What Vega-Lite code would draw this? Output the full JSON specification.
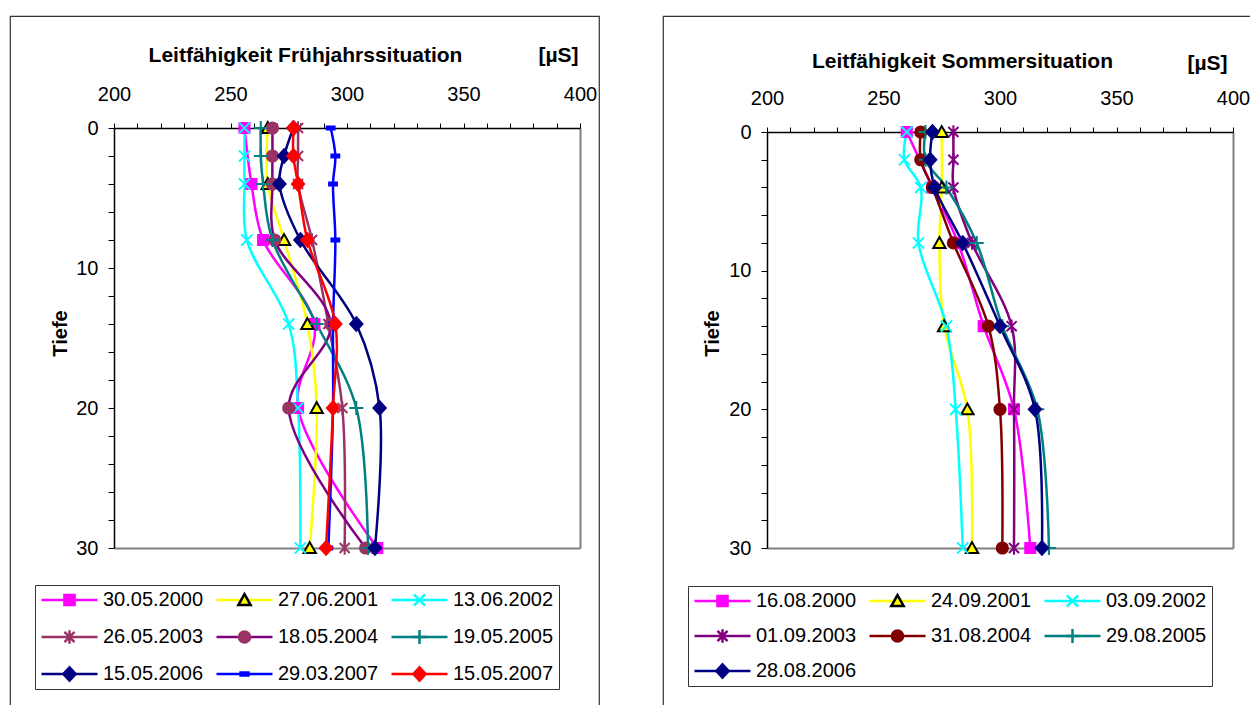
{
  "$schema": "https://vega.github.io/schema/vega-lite/v6.json",
  "padding": {"left": 9, "top": 15, "right": 0, "bottom": 0},
  "background": "white",
  "config": {
    "view": {"stroke": "#333333", "strokeWidth": 1.2, "fill": "white"},
    "font": "Liberation Sans",
    "axis": {"labelFont": "Liberation Sans", "labelFontSize": 20, "labelColor": "black", "titleFont": "Liberation Sans", "titleFontSize": 21, "titleFontWeight": "bold", "titleColor": "black", "domainColor": "black", "tickColor": "black", "labelFlush": false, "labelOverlap": false}
  },
  "datasets": {
    "fj": [
      {"s": "30.05.2000", "t": 0, "v": 256}, {"s": "30.05.2000", "t": 4, "v": 259}, {"s": "30.05.2000", "t": 8, "v": 264}, {"s": "30.05.2000", "t": 14, "v": 286}, {"s": "30.05.2000", "t": 20, "v": 279}, {"s": "30.05.2000", "t": 30, "v": 313},
      {"s": "27.06.2001", "t": 0, "v": 266}, {"s": "27.06.2001", "t": 4, "v": 266}, {"s": "27.06.2001", "t": 8, "v": 273}, {"s": "27.06.2001", "t": 14, "v": 283}, {"s": "27.06.2001", "t": 20, "v": 287}, {"s": "27.06.2001", "t": 30, "v": 284},
      {"s": "13.06.2002", "t": 0, "v": 256}, {"s": "13.06.2002", "t": 2, "v": 256}, {"s": "13.06.2002", "t": 4, "v": 256}, {"s": "13.06.2002", "t": 8, "v": 257}, {"s": "13.06.2002", "t": 14, "v": 275}, {"s": "13.06.2002", "t": 20, "v": 279}, {"s": "13.06.2002", "t": 30, "v": 280},
      {"s": "26.05.2003", "t": 0, "v": 279}, {"s": "26.05.2003", "t": 2, "v": 279}, {"s": "26.05.2003", "t": 4, "v": 279}, {"s": "26.05.2003", "t": 8, "v": 285}, {"s": "26.05.2003", "t": 14, "v": 292}, {"s": "26.05.2003", "t": 20, "v": 298}, {"s": "26.05.2003", "t": 30, "v": 299},
      {"s": "18.05.2004", "t": 0, "v": 268}, {"s": "18.05.2004", "t": 2, "v": 268}, {"s": "18.05.2004", "t": 4, "v": 268}, {"s": "18.05.2004", "t": 8, "v": 269}, {"s": "18.05.2004", "t": 14, "v": 293}, {"s": "18.05.2004", "t": 20, "v": 275}, {"s": "18.05.2004", "t": 30, "v": 308},
      {"s": "19.05.2005", "t": 0, "v": 263}, {"s": "19.05.2005", "t": 2, "v": 263}, {"s": "19.05.2005", "t": 4, "v": 264}, {"s": "19.05.2005", "t": 8, "v": 268}, {"s": "19.05.2005", "t": 14, "v": 287}, {"s": "19.05.2005", "t": 20, "v": 304}, {"s": "19.05.2005", "t": 30, "v": 309},
      {"s": "15.05.2006", "t": 0, "v": 277}, {"s": "15.05.2006", "t": 2, "v": 273}, {"s": "15.05.2006", "t": 4, "v": 271}, {"s": "15.05.2006", "t": 8, "v": 280}, {"s": "15.05.2006", "t": 14, "v": 304}, {"s": "15.05.2006", "t": 20, "v": 314}, {"s": "15.05.2006", "t": 30, "v": 312},
      {"s": "29.03.2007", "t": 0, "v": 293}, {"s": "29.03.2007", "t": 2, "v": 295}, {"s": "29.03.2007", "t": 4, "v": 294}, {"s": "29.03.2007", "t": 8, "v": 295}, {"s": "29.03.2007", "t": 14, "v": 294}, {"s": "29.03.2007", "t": 20, "v": 294}, {"s": "29.03.2007", "t": 30, "v": 292},
      {"s": "15.05.2007", "t": 0, "v": 277}, {"s": "15.05.2007", "t": 2, "v": 277}, {"s": "15.05.2007", "t": 4, "v": 279}, {"s": "15.05.2007", "t": 8, "v": 283}, {"s": "15.05.2007", "t": 14, "v": 295}, {"s": "15.05.2007", "t": 20, "v": 294}, {"s": "15.05.2007", "t": 30, "v": 291}
    ],
    "so": [
      {"s": "16.08.2000", "t": 0, "v": 260}, {"s": "16.08.2000", "t": 4, "v": 271}, {"s": "16.08.2000", "t": 8, "v": 282}, {"s": "16.08.2000", "t": 14, "v": 293}, {"s": "16.08.2000", "t": 20, "v": 306}, {"s": "16.08.2000", "t": 30, "v": 313},
      {"s": "24.09.2001", "t": 0, "v": 275}, {"s": "24.09.2001", "t": 4, "v": 275}, {"s": "24.09.2001", "t": 8, "v": 274}, {"s": "24.09.2001", "t": 14, "v": 276}, {"s": "24.09.2001", "t": 20, "v": 286}, {"s": "24.09.2001", "t": 30, "v": 288},
      {"s": "03.09.2002", "t": 0, "v": 260}, {"s": "03.09.2002", "t": 2, "v": 259}, {"s": "03.09.2002", "t": 4, "v": 266}, {"s": "03.09.2002", "t": 8, "v": 265}, {"s": "03.09.2002", "t": 14, "v": 277}, {"s": "03.09.2002", "t": 20, "v": 281}, {"s": "03.09.2002", "t": 30, "v": 284},
      {"s": "01.09.2003", "t": 0, "v": 280}, {"s": "01.09.2003", "t": 2, "v": 280}, {"s": "01.09.2003", "t": 4, "v": 280}, {"s": "01.09.2003", "t": 8, "v": 288}, {"s": "01.09.2003", "t": 14, "v": 305}, {"s": "01.09.2003", "t": 20, "v": 306}, {"s": "01.09.2003", "t": 30, "v": 306},
      {"s": "31.08.2004", "t": 0, "v": 266}, {"s": "31.08.2004", "t": 2, "v": 266}, {"s": "31.08.2004", "t": 4, "v": 271}, {"s": "31.08.2004", "t": 8, "v": 280}, {"s": "31.08.2004", "t": 14, "v": 295}, {"s": "31.08.2004", "t": 20, "v": 300}, {"s": "31.08.2004", "t": 30, "v": 301},
      {"s": "29.08.2005", "t": 0, "v": 268}, {"s": "29.08.2005", "t": 2, "v": 268}, {"s": "29.08.2005", "t": 4, "v": 277}, {"s": "29.08.2005", "t": 8, "v": 290}, {"s": "29.08.2005", "t": 14, "v": 301}, {"s": "29.08.2005", "t": 20, "v": 316}, {"s": "29.08.2005", "t": 30, "v": 321},
      {"s": "28.08.2006", "t": 0, "v": 271}, {"s": "28.08.2006", "t": 2, "v": 270}, {"s": "28.08.2006", "t": 4, "v": 272}, {"s": "28.08.2006", "t": 8, "v": 284}, {"s": "28.08.2006", "t": 14, "v": 300}, {"s": "28.08.2006", "t": 20, "v": 315}, {"s": "28.08.2006", "t": 30, "v": 318}
    ]
  },
  "spacing": 62,
  "resolve": {
    "scale": {"x": "independent", "y": "independent", "color": "independent", "fill": "independent", "stroke": "independent", "shape": "independent"},
    "legend": {"color": "independent", "fill": "independent", "stroke": "independent", "shape": "independent"}
  },
  "hconcat": [
    {
      "width": 589,
      "height": 700,
      "data": {"name": "fj"},
      "resolve": {"axis": {"x": "independent"}},
      "layer": [
        {
          "mark": {"type": "line", "interpolate": "catmull-rom", "strokeWidth": 2.5},
          "encoding": {
            "x": {"field": "v", "type": "quantitative", "scale": {"domain": [200, 400], "range": [104, 570], "zero": false, "nice": false},
              "axis": {"orient": "top", "offset": -112, "values": [200, 210, 220, 230, 240, 250, 260, 270, 280, 290, 300, 310, 320, 330, 340, 350, 360, 370, 380, 390, 400], "labelExpr": "datum.value % 50 === 0 ? datum.label : ''", "tickSize": 5, "tickWidth": 1, "domainWidth": 1.5, "labelPadding": 19, "grid": true, "gridColor": "#808080", "gridWidth": 2, "gridOpacity": {"condition": {"test": "datum.value === 400", "value": 1}, "value": 0}, "title": "Leitfähigkeit Frühjahrssituation", "titleX": 295, "titleY": -73, "titleBaseline": "middle", "titleAlign": "center"}},
            "y": {"field": "t", "type": "quantitative", "scale": {"domain": [0, 30], "range": [112, 532], "zero": false, "nice": false},
              "axis": {"orient": "left", "offset": -104, "values": [0, 1, 2, 3, 4, 5, 6, 7, 8, 9, 10, 11, 12, 13, 14, 15, 16, 17, 18, 19, 20, 21, 22, 23, 24, 25, 26, 27, 28, 29, 30], "labelExpr": "datum.value % 5 === 0 ? datum.label : ''", "tickSize": 6, "tickWidth": 1, "domainWidth": 1.5, "labelPadding": 10, "grid": true, "gridColor": "#808080", "gridWidth": 2, "gridOpacity": {"condition": {"test": "datum.value === 30", "value": 1}, "value": 0}, "title": "Tiefe", "titleFontSize": 20, "titleX": -54, "titleY": 317, "titleAngle": -90, "titleBaseline": "middle", "titleAlign": "center"}},
            "color": {"field": "s", "type": "nominal",
              "sort": ["30.05.2000", "27.06.2001", "13.06.2002", "26.05.2003", "18.05.2004", "19.05.2005", "15.05.2006", "29.03.2007", "15.05.2007"],
              "scale": {"range": ["#FF00FF", "#FFFF00", "#00FFFF", "#993366", "#800080", "#008080", "#000080", "#0000FF", "#FF0000"]},
              "legend": {"orient": "none", "direction": "horizontal", "legendX": 25, "legendY": 569, "columns": 3, "title": null, "symbolType": "M-1,0H1", "symbolSize": 3136, "symbolStrokeWidth": 2.5, "clipHeight": 20, "labelFont": "Liberation Sans", "labelFontSize": 20, "labelColor": "black", "labelOffset": 4, "labelLimit": 400, "padding": 5, "columnPadding": 11, "rowPadding": 17, "strokeColor": "#333333", "fillColor": "white"}},
            "order": {"field": "t", "type": "quantitative"}
          }
        },
        {
          "mark": {"type": "point", "size": 3136, "strokeWidth": 2, "opacity": 1},
          "encoding": {
            "x": {"field": "v", "type": "quantitative",
              "axis": {"orient": "top", "offset": -112, "domain": false, "ticks": false, "labels": false, "grid": false, "title": "[µS]", "titleX": 548, "titleY": -73, "titleBaseline": "middle", "titleAlign": "center"}},
            "y": {"field": "t", "type": "quantitative"},
            "shape": {"field": "s", "type": "nominal",
              "scale": {"domain": ["30.05.2000", "27.06.2001", "13.06.2002", "26.05.2003", "18.05.2004", "19.05.2005", "15.05.2006", "29.03.2007", "15.05.2007"],
                "range": [
                  "M-1,0M1,0M-0.18,-0.18H0.18V0.18H-0.18Z",
                  "M-1,0M1,0M0,-0.21L0.22,0.18H-0.22Z",
                  "M-1,0M1,0M-0.2,-0.2L0.2,0.2M-0.2,0.2L0.2,-0.2",
                  "M-1,0M1,0M-0.18,-0.18L0.18,0.18M-0.18,0.18L0.18,-0.18M0,-0.24V0.24",
                  "M-1,0M1,0M0,-0.2C0.11,-0.2 0.2,-0.11 0.2,0C0.2,0.11 0.11,0.2 0,0.2C-0.11,0.2 -0.2,0.11 -0.2,0C-0.2,-0.11 -0.11,-0.2 0,-0.2Z",
                  "M-1,0M1,0M-0.25,0H0.25M0,-0.25V0.25",
                  "M-1,0M1,0M0,-0.24L0.22,0L0,0.24L-0.22,0Z",
                  "M-1,0M1,0M-0.14,-0.055H0.14V0.055H-0.14Z",
                  "M-1,0M1,0M0,-0.24L0.22,0L0,0.24L-0.22,0Z"
                ]},
              "legend": {"orient": "none", "direction": "horizontal", "legendX": 25, "legendY": 569, "columns": 3, "title": null, "symbolSize": 3136, "symbolStrokeWidth": 2.5, "symbolFillColor": "transparent", "clipHeight": 20, "labelFont": "Liberation Sans", "labelFontSize": 20, "labelOpacity": 0, "labelOffset": 4, "labelLimit": 400, "padding": 5, "columnPadding": 11, "rowPadding": 17}},
            "fill": {"field": "s", "type": "nominal",
              "scale": {"domain": ["30.05.2000", "27.06.2001", "13.06.2002", "26.05.2003", "18.05.2004", "19.05.2005", "15.05.2006", "29.03.2007", "15.05.2007"],
                "range": ["#FF00FF", "#FFFF00", "transparent", "transparent", "#993366", "transparent", "#000080", "#0000FF", "#FF0000"]},
              "legend": {"orient": "none", "direction": "horizontal", "legendX": 25, "legendY": 569, "columns": 3, "title": null, "symbolSize": 3136, "symbolStrokeWidth": 2.5, "symbolFillColor": "transparent", "clipHeight": 20, "labelFont": "Liberation Sans", "labelFontSize": 20, "labelOpacity": 0, "labelOffset": 4, "labelLimit": 400, "padding": 5, "columnPadding": 11, "rowPadding": 17}},
            "stroke": {"field": "s", "type": "nominal",
              "scale": {"domain": ["30.05.2000", "27.06.2001", "13.06.2002", "26.05.2003", "18.05.2004", "19.05.2005", "15.05.2006", "29.03.2007", "15.05.2007"],
                "range": ["#FF00FF", "#000000", "#00FFFF", "#993366", "#993366", "#008080", "#000080", "#0000FF", "#FF0000"]},
              "legend": {"orient": "none", "direction": "horizontal", "legendX": 25, "legendY": 569, "columns": 3, "title": null, "symbolSize": 3136, "symbolStrokeWidth": 2.5, "symbolFillColor": "transparent", "clipHeight": 20, "labelFont": "Liberation Sans", "labelFontSize": 20, "labelOpacity": 0, "labelOffset": 4, "labelLimit": 400, "padding": 5, "columnPadding": 11, "rowPadding": 17}}
          }
        }
      ]
    },
    {
      "width": 589,
      "height": 700,
      "data": {"name": "so"},
      "resolve": {"axis": {"x": "independent"}},
      "layer": [
        {
          "mark": {"type": "line", "interpolate": "catmull-rom", "strokeWidth": 2.5},
          "encoding": {
            "x": {"field": "v", "type": "quantitative", "scale": {"domain": [200, 400], "range": [104, 570], "zero": false, "nice": false},
              "axis": {"orient": "top", "offset": -116, "values": [200, 210, 220, 230, 240, 250, 260, 270, 280, 290, 300, 310, 320, 330, 340, 350, 360, 370, 380, 390, 400], "labelExpr": "datum.value % 50 === 0 ? datum.label : ''", "tickSize": 5, "tickWidth": 1, "domainWidth": 1.5, "labelPadding": 19, "grid": true, "gridColor": "#808080", "gridWidth": 2, "gridOpacity": {"condition": {"test": "datum.value === 400", "value": 1}, "value": 0}, "title": "Leitfähigkeit Sommersituation", "titleX": 299, "titleY": -71, "titleBaseline": "middle", "titleAlign": "center"}},
            "y": {"field": "t", "type": "quantitative", "scale": {"domain": [0, 30], "range": [116, 532], "zero": false, "nice": false},
              "axis": {"orient": "left", "offset": -104, "values": [0, 1, 2, 3, 4, 5, 6, 7, 8, 9, 10, 11, 12, 13, 14, 15, 16, 17, 18, 19, 20, 21, 22, 23, 24, 25, 26, 27, 28, 29, 30], "labelExpr": "datum.value % 5 === 0 ? datum.label : ''", "tickSize": 6, "tickWidth": 1, "domainWidth": 1.5, "labelPadding": 10, "grid": true, "gridColor": "#808080", "gridWidth": 2, "gridOpacity": {"condition": {"test": "datum.value === 30", "value": 1}, "value": 0}, "title": "Tiefe", "titleFontSize": 20, "titleX": -55, "titleY": 317, "titleAngle": -90, "titleBaseline": "middle", "titleAlign": "center"}},
            "color": {"field": "s", "type": "nominal",
              "sort": ["16.08.2000", "24.09.2001", "03.09.2002", "01.09.2003", "31.08.2004", "29.08.2005", "28.08.2006"],
              "scale": {"range": ["#FF00FF", "#FFFF00", "#00FFFF", "#800080", "#800000", "#008080", "#000080"]},
              "legend": {"orient": "none", "direction": "horizontal", "legendX": 25, "legendY": 570, "columns": 3, "title": null, "symbolType": "M-1,0H1", "symbolSize": 3136, "symbolStrokeWidth": 2.5, "clipHeight": 20, "labelFont": "Liberation Sans", "labelFontSize": 20, "labelColor": "black", "labelOffset": 4, "labelLimit": 400, "padding": 5, "columnPadding": 11, "rowPadding": 15, "strokeColor": "#333333", "fillColor": "white"}},
            "order": {"field": "t", "type": "quantitative"}
          }
        },
        {
          "mark": {"type": "point", "size": 3136, "strokeWidth": 2, "opacity": 1},
          "encoding": {
            "x": {"field": "v", "type": "quantitative",
              "axis": {"orient": "top", "offset": -116, "domain": false, "ticks": false, "labels": false, "grid": false, "title": "[µS]", "titleX": 544, "titleY": -69, "titleBaseline": "middle", "titleAlign": "center"}},
            "y": {"field": "t", "type": "quantitative"},
            "shape": {"field": "s", "type": "nominal",
              "scale": {"domain": ["16.08.2000", "24.09.2001", "03.09.2002", "01.09.2003", "31.08.2004", "29.08.2005", "28.08.2006"],
                "range": [
                  "M-1,0M1,0M-0.18,-0.18H0.18V0.18H-0.18Z",
                  "M-1,0M1,0M0,-0.21L0.22,0.18H-0.22Z",
                  "M-1,0M1,0M-0.2,-0.2L0.2,0.2M-0.2,0.2L0.2,-0.2",
                  "M-1,0M1,0M-0.18,-0.18L0.18,0.18M-0.18,0.18L0.18,-0.18M0,-0.24V0.24",
                  "M-1,0M1,0M0,-0.2C0.11,-0.2 0.2,-0.11 0.2,0C0.2,0.11 0.11,0.2 0,0.2C-0.11,0.2 -0.2,0.11 -0.2,0C-0.2,-0.11 -0.11,-0.2 0,-0.2Z",
                  "M-1,0M1,0M-0.25,0H0.25M0,-0.25V0.25",
                  "M-1,0M1,0M0,-0.24L0.22,0L0,0.24L-0.22,0Z"
                ]},
              "legend": {"orient": "none", "direction": "horizontal", "legendX": 25, "legendY": 570, "columns": 3, "title": null, "symbolSize": 3136, "symbolStrokeWidth": 2.5, "symbolFillColor": "transparent", "clipHeight": 20, "labelFont": "Liberation Sans", "labelFontSize": 20, "labelOpacity": 0, "labelOffset": 4, "labelLimit": 400, "padding": 5, "columnPadding": 11, "rowPadding": 15}},
            "fill": {"field": "s", "type": "nominal",
              "scale": {"domain": ["16.08.2000", "24.09.2001", "03.09.2002", "01.09.2003", "31.08.2004", "29.08.2005", "28.08.2006"],
                "range": ["#FF00FF", "#FFFF00", "transparent", "transparent", "#800000", "transparent", "#000080"]},
              "legend": {"orient": "none", "direction": "horizontal", "legendX": 25, "legendY": 570, "columns": 3, "title": null, "symbolSize": 3136, "symbolStrokeWidth": 2.5, "symbolFillColor": "transparent", "clipHeight": 20, "labelFont": "Liberation Sans", "labelFontSize": 20, "labelOpacity": 0, "labelOffset": 4, "labelLimit": 400, "padding": 5, "columnPadding": 11, "rowPadding": 15}},
            "stroke": {"field": "s", "type": "nominal",
              "scale": {"domain": ["16.08.2000", "24.09.2001", "03.09.2002", "01.09.2003", "31.08.2004", "29.08.2005", "28.08.2006"],
                "range": ["#FF00FF", "#000000", "#00FFFF", "#800080", "#800000", "#008080", "#000080"]},
              "legend": {"orient": "none", "direction": "horizontal", "legendX": 25, "legendY": 570, "columns": 3, "title": null, "symbolSize": 3136, "symbolStrokeWidth": 2.5, "symbolFillColor": "transparent", "clipHeight": 20, "labelFont": "Liberation Sans", "labelFontSize": 20, "labelOpacity": 0, "labelOffset": 4, "labelLimit": 400, "padding": 5, "columnPadding": 11, "rowPadding": 15}}
          }
        }
      ]
    }
  ]
}
